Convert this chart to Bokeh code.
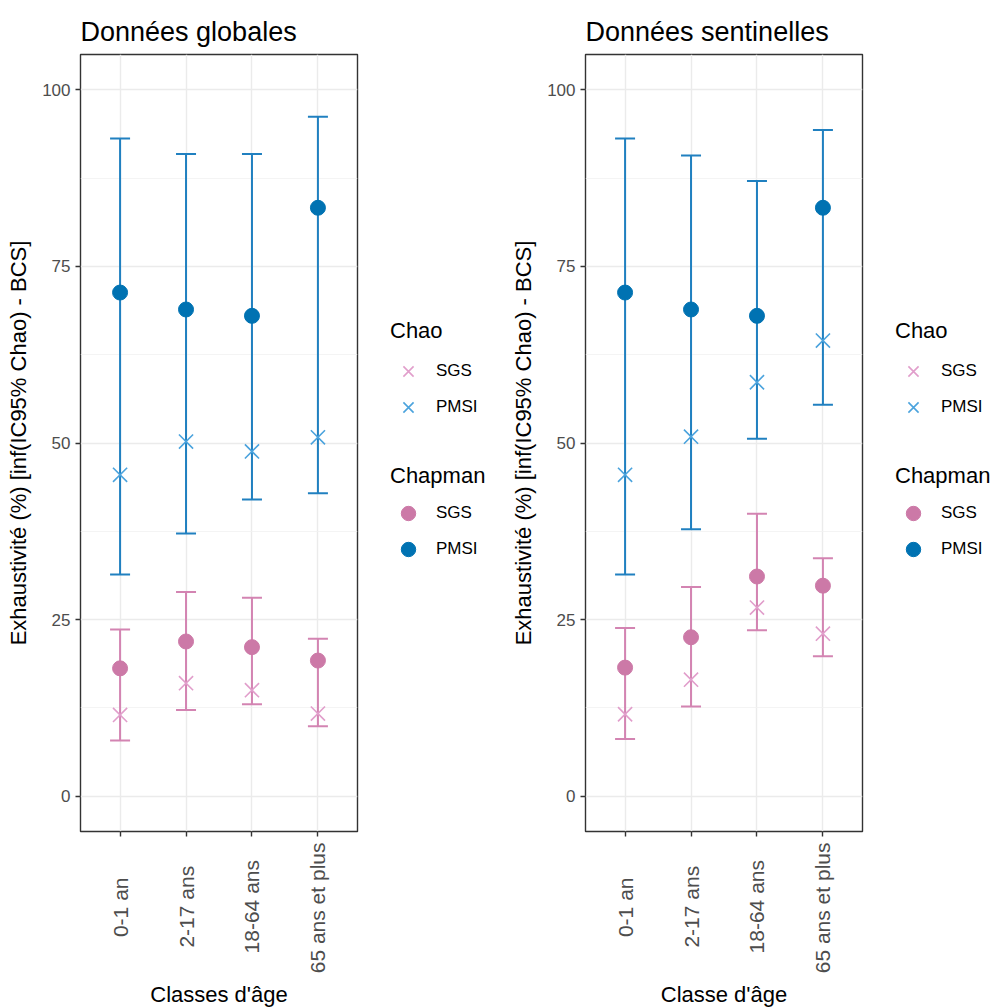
from bokeh.plotting import figure
from bokeh.models import (Range1d, FixedTicker, ColumnDataSource, Legend, LegendItem)
from bokeh.layouts import row
from bokeh.embed import file_html
from bokeh.resources import INLINE
import math

categories = ["0-1 an", "2-17 ans", "18-64 ans", "65 ans et plus"]
y_ticks = [0, 25, 50, 75, 100]
y_minor = [12.5, 37.5, 62.5, 87.5]

# Données globales
g_chapman_pmsi = [71.3, 68.9, 68.0, 83.3]
g_chao_pmsi = [45.5, 50.2, 48.8, 50.8]
g_pmsi_low = [31.4, 37.2, 42.0, 42.9]
g_pmsi_high = [93.1, 90.9, 90.9, 96.2]
g_chapman_sgs = [18.1, 21.9, 21.1, 19.2]
g_chao_sgs = [11.5, 16.0, 15.0, 11.7]
g_sgs_low = [7.9, 12.2, 13.0, 9.9]
g_sgs_high = [23.6, 28.9, 28.1, 22.3]

# Données sentinelles
s_chapman_pmsi = [71.3, 68.9, 68.0, 83.3]
s_chao_pmsi = [45.5, 50.9, 58.6, 64.5]
s_pmsi_low = [31.4, 37.8, 50.6, 55.4]
s_pmsi_high = [93.1, 90.7, 87.1, 94.3]
s_chapman_sgs = [18.2, 22.5, 31.1, 29.8]
s_chao_sgs = [11.6, 16.5, 26.7, 23.0]
s_sgs_low = [8.1, 12.7, 23.5, 19.8]
s_sgs_high = [23.8, 29.6, 40.0, 33.7]

FONT = "Liberation Sans"
PMSI_DOT = "#0072B2"
PMSI_ERR = "#2080C0"
PMSI_X = "#4BA3DD"
SGS_DOT = "#CC79A7"
SGS_ERR = "#D384B2"
SGS_X = "#E19ECB"
GRID = "#EBEBEB"
DARK = "#333333"
TICK_TXT = "#4D4D4D"
H = 1008

# approximate Arial advance widths (em) used to centre the rotated tick labels
_W = {" ": 0.278, "-": 0.333, "1": 0.556, "l": 0.222, "t": 0.278, "s": 0.5}


def _text_em(s):
    return sum(_W.get(c, 0.556) for c in s)


def centred_labels(cats):
    m = max(_text_em(c) for c in cats)
    out = {}
    for i, c in enumerate(cats):
        n = int(round((m - _text_em(c)) / 2 / 0.278))
        out[i + 1] = c + "\u00a0" * n
    return out


xpos = list(range(1, len(categories) + 1))


def make_source(chap_pmsi, chao_pmsi, pl, ph, chap_sgs, chao_sgs, sl, sh):
    return ColumnDataSource(dict(x=xpos, chap_pmsi=chap_pmsi, chao_pmsi=chao_pmsi,
                                 pl=pl, ph=ph, chap_sgs=chap_sgs, chao_sgs=chao_sgs,
                                 sl=sl, sh=sh))


def add_points(p, src):
    rxs = p.scatter(x="x", y="chao_sgs", source=src, marker="x", size=20,
                    line_color=SGS_X, line_width=1.6)
    rxp = p.scatter(x="x", y="chao_pmsi", source=src, marker="x", size=20,
                    line_color=PMSI_X, line_width=1.6)
    rds = p.scatter(x="x", y="chap_sgs", source=src, marker="circle", size=15,
                    fill_color=SGS_DOT, line_color=SGS_DOT)
    rdp = p.scatter(x="x", y="chap_pmsi", source=src, marker="circle", size=15,
                    fill_color=PMSI_DOT, line_color=PMSI_DOT)
    return rxs, rxp, rds, rdp


def make_panel(title, xlabel, src):
    p = figure(x_range=Range1d(0.4, len(categories) + 0.6),
               y_range=Range1d(-5, 105),
               frame_width=277, frame_height=777,
               min_border_left=80, min_border_right=5,
               min_border_top=54, min_border_bottom=H - 54 - 777,
               output_backend="svg", toolbar_location=None, title=title)
    p.background_fill_color = "white"
    p.border_fill_color = "white"
    p.outline_line_color = DARK
    p.outline_line_width = 1.4

    p.title.text_font = FONT
    p.title.text_font_size = "27px"
    p.title.text_font_style = "normal"
    p.title.text_color = "black"
    p.title.standoff = 15

    p.xgrid.grid_line_color = GRID
    p.xgrid.grid_line_width = 1.4
    p.ygrid.grid_line_color = GRID
    p.ygrid.grid_line_width = 1.4
    p.ygrid.minor_grid_line_color = "#F1F1F1"
    p.ygrid.minor_grid_line_width = 0.8

    ya = p.yaxis[0]
    ya.ticker = FixedTicker(ticks=y_ticks, minor_ticks=y_minor)
    ya.axis_label = "Exhaustivité (%) [inf(IC95% Chao) - BCS]"
    ya.axis_label_text_font = FONT
    ya.axis_label_text_font_size = "22px"
    ya.axis_label_text_font_style = "normal"
    ya.axis_label_text_color = "black"
    ya.axis_label_standoff = 8
    ya.major_label_text_font = FONT
    ya.major_label_text_font_size = "17px"
    ya.major_label_text_color = TICK_TXT
    ya.major_label_standoff = 5
    ya.axis_line_color = None
    ya.major_tick_line_color = DARK
    ya.major_tick_line_width = 1.4
    ya.major_tick_out = 5
    ya.major_tick_in = 0
    ya.minor_tick_out = 0
    ya.minor_tick_in = 0

    xa = p.xaxis[0]
    xa.ticker = FixedTicker(ticks=xpos)
    xa.major_label_overrides = centred_labels(categories)
    xa.major_label_orientation = math.pi / 2
    xa.major_label_text_font = FONT
    xa.major_label_text_font_size = "21px"
    xa.major_label_text_color = TICK_TXT
    xa.major_label_standoff = 6
    xa.axis_label = xlabel
    xa.axis_label_text_font = FONT
    xa.axis_label_text_font_size = "22px"
    xa.axis_label_text_font_style = "normal"
    xa.axis_label_text_color = "black"
    xa.axis_label_standoff = 6
    xa.axis_line_color = None
    xa.major_tick_line_color = DARK
    xa.major_tick_line_width = 1.4
    xa.major_tick_out = 5
    xa.major_tick_in = 0
    xa.minor_tick_out = 0

    for lo, hi, col in (("pl", "ph", PMSI_ERR), ("sl", "sh", SGS_ERR)):
        p.segment(x0="x", y0=lo, x1="x", y1=hi, source=src, line_color=col, line_width=2)
        p.scatter(x="x", y=lo, source=src, marker="dash", size=20, line_color=col, line_width=2)
        p.scatter(x="x", y=hi, source=src, marker="dash", size=20, line_color=col, line_width=2)

    add_points(p, src)
    return p


def style_legend(lg, gw, standoff, title_standoff):
    lg.glyph_width = gw
    lg.glyph_height = gw
    lg.label_standoff = standoff
    lg.padding = 0
    lg.margin = 0
    lg.spacing = 0
    lg.title_standoff = title_standoff
    lg.label_text_font = FONT
    lg.label_text_font_size = "17px"
    lg.label_text_color = "black"
    lg.title_text_font = FONT
    lg.title_text_font_size = "22px"
    lg.title_text_font_style = "normal"
    lg.title_text_color = "black"
    lg.border_line_color = None
    lg.background_fill_alpha = 0
    return lg


def make_legend(width, src):
    # legend-only figure: the series sit outside its x range, only the legends show
    q = figure(width=width, height=H, x_range=Range1d(-3, -2), y_range=Range1d(0, 1),
               x_axis_type=None, y_axis_type=None, min_border=0,
               output_backend="svg", toolbar_location=None)
    q.outline_line_color = None
    q.background_fill_color = "white"
    q.border_fill_color = "white"
    q.xgrid.visible = False
    q.ygrid.visible = False
    rxs, rxp, rds, rdp = add_points(q, src)
    chao = Legend(items=[LegendItem(label="SGS", renderers=[rxs]),
                         LegendItem(label="PMSI", renderers=[rxp])],
                  title="Chao", location=(28, 404))
    style_legend(chao, 36, 10, 9)
    chap = Legend(items=[LegendItem(label="SGS", renderers=[rds]),
                         LegendItem(label="PMSI", renderers=[rdp])],
                  title="Chapman", location=(28, 262))
    style_legend(chap, 36, 10, 6)
    q.add_layout(chao)
    q.add_layout(chap)
    return q


src_g = make_source(g_chapman_pmsi, g_chao_pmsi, g_pmsi_low, g_pmsi_high,
                    g_chapman_sgs, g_chao_sgs, g_sgs_low, g_sgs_high)
src_s = make_source(s_chapman_pmsi, s_chao_pmsi, s_pmsi_low, s_pmsi_high,
                    s_chapman_sgs, s_chao_sgs, s_sgs_low, s_sgs_high)

p1 = make_panel("Données globales", "Classes d'âge", src_g)
l1 = make_legend(143, src_g)
p2 = make_panel("Données sentinelles", "Classe d'âge", src_s)
l2 = make_legend(128, src_s)

layout = row(p1, l1, p2, l2)
open("out.html", "w").write(file_html(layout, INLINE))
